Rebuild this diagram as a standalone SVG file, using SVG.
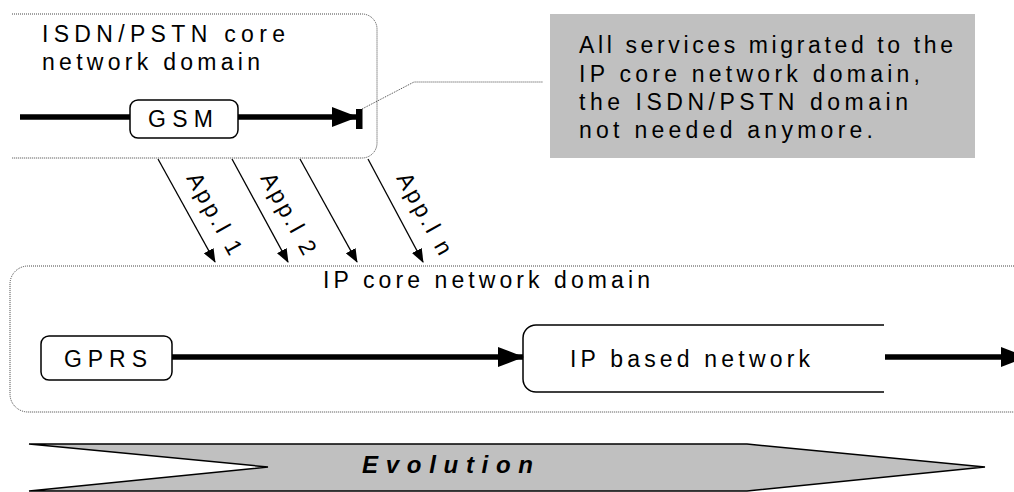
<svg xmlns="http://www.w3.org/2000/svg" width="1014" height="492" viewBox="0 0 1014 492">
<defs>
<style>
text{font-family:"Liberation Sans",Arial,sans-serif;fill:#000;}
.t{font-size:23px;}
.dot{fill:none;stroke:#444;stroke-width:1;stroke-dasharray:1 1;}
.thick{fill:none;stroke:#000;stroke-width:5.5;}
.thin{fill:none;stroke:#000;stroke-width:1.3;}
.box{fill:#fff;stroke:#000;stroke-width:1.5;}
</style>
<marker id="big" markerUnits="userSpaceOnUse" markerWidth="26" markerHeight="20" refX="25" refY="10" orient="auto" viewBox="0 0 26 20"><path d="M0,0 L26,10 L0,20 Z" fill="#000"/></marker>
<marker id="small" markerUnits="userSpaceOnUse" markerWidth="14" markerHeight="11" refX="13" refY="5.5" orient="auto" viewBox="0 0 14 11"><path d="M0,0 L14,5.5 L0,11 Z" fill="#000"/></marker>
</defs>
<rect width="1014" height="492" fill="#fff"/>

<g id="isdn-domain">
<path class="dot" d="M12,14 H362 A15,15 0 0 1 377,29 V143 A15,15 0 0 1 362,158 H12"/>
<text class="t" x="42" y="42" textLength="243" lengthAdjust="spacing">ISDN/PSTN core</text>
<text class="t" x="42" y="70" textLength="218" lengthAdjust="spacing">network domain</text>
</g>

<g id="ip-domain">
<path class="dot" d="M1014,266 H28 A18,18 0 0 0 10,284 V394 A18,18 0 0 0 28,412 H1014"/>
<text class="t" x="323" y="288" textLength="327" lengthAdjust="spacing">IP core network domain</text>
</g>

<g id="note">
<rect x="550" y="14" width="425" height="144" fill="#c0c0c0"/>
<text class="t" x="579" y="53" textLength="374" lengthAdjust="spacing">All services migrated to the</text>
<text class="t" x="579" y="82" textLength="341" lengthAdjust="spacing">IP core network domain,</text>
<text class="t" x="579" y="110" textLength="329" lengthAdjust="spacing">the ISDN/PSTN domain</text>
<text class="t" x="579" y="138" textLength="294" lengthAdjust="spacing">not needed anymore.</text>
</g>

<g id="gsm">
<rect class="box" x="130" y="100" width="108" height="38" rx="8"/>
<text class="t" x="148" y="127" textLength="65" lengthAdjust="spacing">GSM</text>
</g>

<g id="gprs">
<rect class="box" x="41" y="336" width="131" height="44" rx="8"/>
<text class="t" x="64" y="367" textLength="83" lengthAdjust="spacing">GPRS</text>
</g>

<g id="ip-based-network">
<path class="box" fill="#fff" d="M884,325 H536 A13,13 0 0 0 523,338 V379 A13,13 0 0 0 536,392 H884"/>
<text class="t" x="570" y="367" textLength="240" lengthAdjust="spacing">IP based network</text>
</g>

<g id="evolution">
<polygon points="29,444 747,444 985,467 747,491 29,491 268,467" fill="#c0c0c0" stroke="#000" stroke-width="1.5" stroke-linejoin="miter"/>
<text x="362" y="473" font-size="24" font-weight="bold" font-style="italic" textLength="171" lengthAdjust="spacing">Evolution</text>
</g>

<g id="connectors">
<line class="thick" x1="20" y1="117" x2="130" y2="117"/>
<line class="thick" x1="238" y1="117" x2="357" y2="117" marker-end="url(#big)"/>
<rect x="356" y="109" width="6.5" height="20" fill="#000"/>
<path class="dot" d="M362,109 L414,82 H543"/>
<line class="thick" x1="172" y1="357" x2="523" y2="357" marker-end="url(#big)"/>
<line class="thick" x1="885" y1="357" x2="1026" y2="357" marker-end="url(#big)"/>
<line class="thin" x1="158" y1="159" x2="215" y2="262" marker-end="url(#small)"/>
<line class="thin" x1="232" y1="159" x2="288" y2="262" marker-end="url(#small)"/>
<line class="thin" x1="300" y1="159" x2="357" y2="262" marker-end="url(#small)"/>
<line class="thin" x1="368" y1="159" x2="423" y2="262" marker-end="url(#small)"/>
<text class="t" transform="translate(186,178) rotate(61)" textLength="90" lengthAdjust="spacing">App.l 1</text>
<text class="t" transform="translate(260,178) rotate(61)" textLength="90" lengthAdjust="spacing">App.l 2</text>
<text class="t" transform="translate(396,178) rotate(61)" textLength="90" lengthAdjust="spacing">App.l n</text>
</g>
</svg>
